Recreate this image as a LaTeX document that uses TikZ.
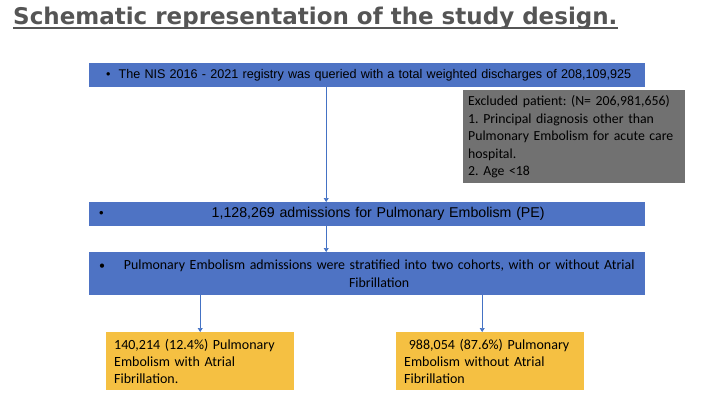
\documentclass[tikz,border=0pt]{standalone}
\usepackage{fontspec}
\setmainfont{Liberation Sans}
\newfontfamily\calibri{Carlito}
\newfontfamily\titlefont{DejaVu Sans}
\usetikzlibrary{arrows.meta,positioning}
\definecolor{boxblue}{HTML}{4E73C4}
\definecolor{lineblue}{HTML}{4472C4}
\definecolor{boxgray}{HTML}{717171}
\definecolor{boxgold}{HTML}{F5C042}
\definecolor{titlegray}{HTML}{555555}
\frenchspacing
\begin{document}
\begin{tikzpicture}[x=1pt,y=-1pt,
    bluebar/.style={fill=boxblue, anchor=north west, inner ysep=0pt,
      minimum width=556pt, text width=530pt, inner xsep=13pt},
    goldbox/.style={fill=boxgold, anchor=north west, inner xsep=8pt, inner ysep=0pt,
      minimum height=58pt, text width=172pt, align=left,
      font=\calibri\fontsize{14}{17}\selectfont},
    dot/.style={anchor=west, inner sep=0pt, xshift=10pt},
    flow/.style={lineblue, line width=0.6pt, -{Triangle[width=5pt,length=4pt]}}]
    \useasboundingbox (0,0) rectangle (723,402);

    % title
    \node[anchor=base west, inner sep=0pt, text=titlegray,
      font=\titlefont\bfseries\fontsize{23}{28}\selectfont] (title) at (13,24)
      {Schematic representation of the study design.};
    \draw[titlegray, line width=2.5pt] ([yshift=-4pt]title.base west) -- ([yshift=-4pt]title.base east);

    % boxes
    \node[bluebar, minimum height=24pt, align=left,
      font=\fontsize{12.6}{15}\selectfont] (nis) at (89,63)
      {\hspace*{4pt}\textbullet\hspace{8pt}The NIS 2016 - 2021 registry was queried with a total weighted discharges of 208,109,925};
    \node[fill=boxgray, anchor=north west, inner xsep=5pt, inner ysep=0pt,
      minimum height=93pt, text width=212pt, align=left,
      font=\calibri\fontsize{13.8}{17.5}\selectfont] (excl) at (463,90)
      {Excluded patient: (N= 206,981,656)\\
       1. Principal diagnosis other than\\
       Pulmonary Embolism for acute care\\
       hospital.\\
       2. Age <18};
    \node[bluebar, minimum height=24pt, align=center,
      font=\fontsize{14.2}{17}\selectfont,
      label={[dot, font=\fontsize{13}{16}\selectfont]west:\textbullet}] (pe) at (89,202)
      {\hspace*{22pt}1,128,269 admissions for Pulmonary Embolism (PE)};
    \node[bluebar, minimum height=43pt, align=center, text width=546pt, inner xsep=5pt,
      font=\calibri\fontsize{13.9}{18}\selectfont] (strat) at (89,252)
      {\hspace*{24pt}Pulmonary Embolism admissions were stratified into two cohorts, with or without Atrial\\
       \hspace*{24pt}Fibrillation};
    \node[dot, font=\calibri\fontsize{12}{18}\selectfont] (stratdot) at ([yshift=6.5pt]strat.west) {\textbullet};
    \node[goldbox] (withaf) at (106,332)
      {140,214 (12.4\%) Pulmonary\\ Embolism with Atrial\\ Fibrillation.};
    \node[goldbox] (withoutaf) at (396,332)
      {\ 988,054 (87.6\%) Pulmonary\\ Embolism without Atrial\\ Fibrillation};

    % arrows
    \draw[flow] ([xshift=-41pt]nis.south) -- ([xshift=-41pt]pe.north);
    \draw[flow] ([xshift=-41pt]pe.south) -- ([xshift=-41pt]strat.north);
    \draw[flow] (withaf.north |- strat.south) -- (withaf.north);
    \draw[flow] ([xshift=-8pt]withoutaf.north |- strat.south) -- ([xshift=-8pt]withoutaf.north);
\end{tikzpicture}
\end{document}
